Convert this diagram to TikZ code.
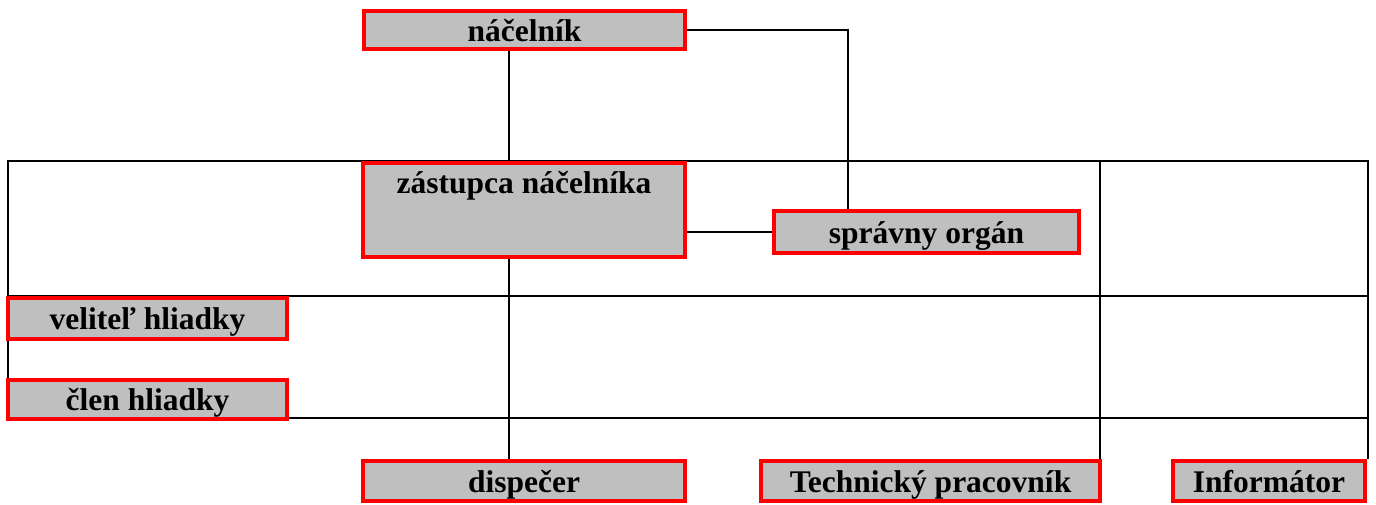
\documentclass[tikz,border=0pt]{standalone}
\usepackage{fontspec}
\setmainfont{Liberation Serif}
\usetikzlibrary{backgrounds}
\definecolor{boxgray}{RGB}{191,191,191}
\begin{document}
\begin{tikzpicture}[x=1pt,y=-1pt,
  box/.style={draw=red, line width=4pt, fill=boxgray, inner sep=0pt,
    text height=24pt, text depth=2pt,
    font=\fontsize{31.5}{36}\selectfont\bfseries},
  conn/.style={draw=black, line width=1.8pt},
  grid/.style={draw=black, line width=1.8pt}]
\useasboundingbox (0,0) rectangle (1376,504);
% boxes
\node[box, minimum width=321pt, minimum height=38pt] (nac) at (524.5,30) {náčelník};
\node[box, minimum width=322pt, minimum height=94pt, text height=30pt, text depth=64pt] (zast) at (524,210) {zástupca náčelníka};
\node[box, minimum width=305pt, minimum height=42pt] (sprav) at (926.5,232) {správny orgán};
\node[box, minimum width=279pt, minimum height=41pt] (vel) at (147.5,318.5) {veliteľ hliadky};
\node[box, minimum width=279pt, minimum height=39pt] (clen) at (147.5,399.5) {člen hliadky};
\node[box, minimum width=322pt, minimum height=40pt] (dis) at (524,481) {dispečer};
\node[box, minimum width=339pt, minimum height=40pt] (tech) at (930.5,481) {Technický pracovník};
\node[box, minimum width=192pt, minimum height=40pt] (inf) at (1269,481) {Informátor};
% helper coordinates
\coordinate (vx) at (509,0);
\coordinate (vr) at (848,0);
\coordinate (gl1) at (8,161);
\coordinate (gr1) at (1368,161);
\coordinate (gl2) at (8,296);
\coordinate (gr2) at (1368,296);
\coordinate (gl3) at (8,418);
\coordinate (gr3) at (1368,418);
\coordinate (gm1) at (1100,161);
\begin{scope}[on background layer]
  % frame lines
  \draw[grid] (gl3) -- (gl1) -- (gr1) -- (gr1 |- inf.north);
  \draw[grid] (gl2) -- (gr2);
  \draw[grid] (gl3) -- (gr3);
  \draw[grid] (gm1) -- (gm1 |- tech.north);
  % connectors
  \draw[conn] (nac.south -| vx) -- (zast.north -| vx);
  \draw[conn] (zast.south -| vx) -- (dis.north -| vx);
  \draw[conn] (nac.east) -| (vr |- sprav.north);
  \draw[conn] (zast.east |- sprav.west) -- (sprav.west);
\end{scope}
\end{tikzpicture}
\end{document}
